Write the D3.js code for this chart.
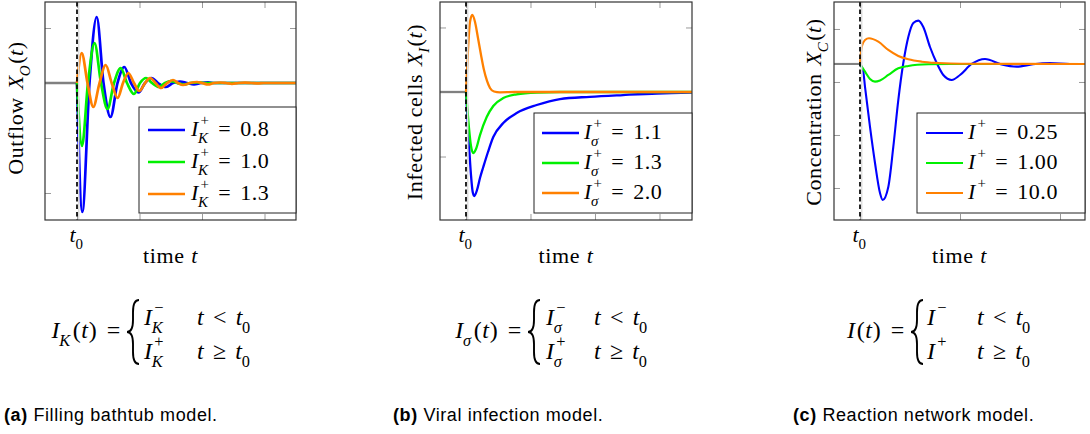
<!DOCTYPE html>
<html>
<head>
<meta charset="utf-8">
<script src="https://cdn.jsdelivr.net/npm/d3@7"></script>
<style>
	body { margin: 0; background: #fff; }
	svg { display: block; }
</style>
</head>
<body>
<div class="container"></div>
<script>
// (a) filling bathtub: outflow, t0 = 0, steady value 0
var bathtubLevels = ["0.8", "1.0", "1.3"];
var bathtubBefore = [[-0.52, 0], [0, 0]];
var bathtubBlue = [[0,0],[0.085,-2.345],[0.2,0],[0.315,1.2],[0.424,0],[0.536,-0.618],[0.648,0],[0.757,0.291],[0.864,0],[0.984,-0.173],[1.088,0],[1.192,0.091],[1.296,0],[1.424,-0.073],[1.536,0],[1.648,0.027],[1.76,0],[1.872,-0.024],[1.984,0],[2.096,0.01],[2.208,0],[3.51,0]];
var bathtubGreen = [[0,0],[0.08,-1.145],[0.176,0],[0.28,0.727],[0.384,0],[0.488,-0.473],[0.592,0],[0.699,0.273],[0.8,0],[0.912,-0.2],[1.008,0],[1.104,0.091],[1.2,0],[1.312,-0.073],[1.408,0],[1.504,0.036],[1.6,0],[1.712,-0.027],[1.808,0],[1.92,0.013],[2.032,0],[3.51,0]];
var bathtubOrange = [[0,0],[0.075,0.545],[0.168,0],[0.261,-0.436],[0.36,0],[0.459,0.327],[0.555,0],[0.651,-0.273],[0.736,0],[0.821,0.182],[0.912,0],[0.997,-0.145],[1.088,0],[1.168,0.091],[1.256,0],[1.344,-0.091],[1.44,0],[1.536,0.055],[1.616,0],[1.696,-0.036],[1.808,0],[1.92,0.018],[2.0,0],[2.096,-0.027],[2.192,0],[2.288,0.009],[2.384,0],[2.48,-0.015],[2.584,0],[2.688,0.007],[2.79,0],[2.896,-0.007],[2.99,0],[3.51,0]];

// (b) viral infection: infected cells
var infectionLevels = ["1.1", "1.3", "2.0"];
var infectionBefore = [[-0.41, 0], [0, 0]];
var infectionBlue = [[0,0],[0.0155,-0.279],[0.0465,-0.822],[0.0775,-1.287],[0.104,-1.55],[0.129,-1.612],[0.171,-1.519],[0.217,-1.333],[0.268,-1.163],[0.341,-0.93],[0.423,-0.698],[0.578,-0.481],[0.786,-0.326],[1.096,-0.202],[1.457,-0.109],[1.922,-0.074],[2.434,-0.047],[2.961,-0.023],[3.51,-0.011]];
var infectionGreen = [[0,0],[0.0155,-0.186],[0.0465,-0.558],[0.0775,-0.837],[0.113,-0.946],[0.155,-0.884],[0.217,-0.667],[0.321,-0.388],[0.423,-0.217],[0.578,-0.093],[0.786,-0.036],[1.096,-0.008],[1.457,0],[3.51,0]];
var infectionOrange = [[0,0],[0.031,0.651],[0.062,1.085],[0.098,1.194],[0.14,1.085],[0.186,0.837],[0.233,0.574],[0.279,0.341],[0.326,0.171],[0.372,0.062],[0.434,0.008],[0.527,-0.005],[0.76,0],[3.51,0]];

// (c) reaction network: concentration, steady value 0.34
var reactionLevels = ["0.25", "1.00", "10.0"];
var reactionBefore = [[-0.27, 0.34], [0, 0.34]];
var reactionBlue = [[0,0.34],[0.033,0.189],[0.05,-0.094],[0.1,-0.849],[0.15,-1.528],[0.2,-2.094],[0.227,-2.226],[0.283,-1.981],[0.333,-1.226],[0.383,-0.34],[0.433,0.358],[0.483,0.849],[0.533,1.113],[0.583,1.157],[0.633,1.038],[0.7,0.66],[0.767,0.358],[0.833,0.132],[0.917,0.038],[1.0,0.132],[1.117,0.34],[1.25,0.434],[1.417,0.33],[1.567,0.289],[1.73,0.334],[1.9,0.355],[2.1,0.34],[2.26,0.34]];
var reactionGreen = [[0,0.34],[0.05,0.194],[0.1,0.057],[0.15,0.006],[0.2,0.028],[0.283,0.132],[0.383,0.258],[0.483,0.302],[0.683,0.334],[0.9,0.34],[2.26,0.34]];
var reactionOrange = [[0,0.34],[0.017,0.666],[0.05,0.792],[0.09,0.825],[0.183,0.76],[0.283,0.604],[0.383,0.491],[0.483,0.428],[0.617,0.383],[0.783,0.358],[1.017,0.343],[2.26,0.34]];

var seriesColors = ["#0000ff", "#00f000", "#ff8000"];

(function() {
	var serifSize = 22;
	var formulaSize = 24;
	var relGap = 0.4;

	var engine = {
		svg: null,
		init: function(width, height, panels) {
			this.svg = d3.select(".container").append("svg")
				.attr("width", width)
				.attr("height", height)
				.attr("font-family", "'Liberation Serif', serif")
				.style("letter-spacing", "0.6px");
			panels.forEach(function(p) {
				engine.drawPanel(p);
			});
		},
		// lays out a little TeX-like formula, returns its width
		mathText: function(g, x, y, size, parts) {
			var cx = x;
			parts.forEach(function(p) {
				if (p.gap !== undefined) {
					cx += p.gap * size;
					return;
				}
				var t = g.append("text")
					.attr("x", cx)
					.attr("y", y)
					.attr("font-size", size)
					.style("font-style", p.it ? "italic" : "normal")
					.text(p.s);
				cx += t.node().getComputedTextLength();
				var w = 0;
				if (p.sup) {
					var sx = p.it ? 0.07 * size : 0;
					var sp = g.append("text")
						.attr("x", cx + sx)
						.attr("y", y - 0.48 * size)
						.attr("font-size", size * 0.68)
						.text(p.sup);
					w = sp.node().getComputedTextLength() + sx;
				}
				if (p.sub) {
					var sb = g.append("text")
						.attr("x", cx - (p.it ? 0.04 * size : 0))
						.attr("y", y + 0.33 * size)
						.attr("font-size", size * 0.68)
						.style("font-style", p.subIt ? "italic" : "normal")
						.text(p.sub);
					w = Math.max(w, sb.node().getComputedTextLength());
				}
				cx += w;
			});
			return cx - x;
		},
		mathAligned: function(g, ax, y, size, parts, anchor) {
			var inner = g.append("g");
			var w = engine.mathText(inner, 0, y, size, parts);
			var off = anchor === "end" ? ax - w : ax - w / 2;
			inner.attr("transform", "translate(" + off + ",0)");
		},
		brace: function(x, y0, y1, w) {
			var xm = x + w / 2;
			var ym = (y0 + y1) / 2;
			var r = w / 2;
			return "M" + (x + w) + "," + y0 +
				" Q" + xm + "," + y0 + " " + xm + "," + (y0 + r * 2) +
				" L" + xm + "," + (ym - r * 2) +
				" Q" + xm + "," + ym + " " + x + "," + ym +
				" Q" + xm + "," + ym + " " + xm + "," + (ym + r * 2) +
				" L" + xm + "," + (y1 - r * 2) +
				" Q" + xm + "," + y1 + " " + (x + w) + "," + y1;
		},
		drawPanel: function(p) {
			var svg = engine.svg;
			var x = d3.scaleLinear().domain(p.tDomain).range([p.left, p.right]);
			var y = d3.scaleLinear().domain(p.yDomain).range([p.bottom, p.top]);
			var g = svg.append("g");

			var clipId = "clip-" + p.name;
			g.append("clipPath").attr("id", clipId)
				.append("rect")
				.attr("x", p.left).attr("y", p.top)
				.attr("width", p.right - p.left).attr("height", p.bottom - p.top);

			// inward ticks on all four sides
			var axes = [
				{ a: d3.axisLeft(y).tickValues(p.yTicks), tr: [p.left, 0] },
				{ a: d3.axisRight(y).tickValues(p.yTicks), tr: [p.right, 0] },
				{ a: d3.axisBottom(x).tickValues(p.xTicks), tr: [0, p.bottom] },
				{ a: d3.axisTop(x).tickValues(p.xTicks), tr: [0, p.top] }
			];
			axes.forEach(function(ax) {
				var ag = g.append("g")
					.attr("transform", "translate(" + ax.tr[0] + "," + ax.tr[1] + ")")
					.call(ax.a.tickSize(-6).tickFormat(""));
				ag.select(".domain").remove();
				ag.selectAll("line").attr("stroke", "#9a9a9a").attr("stroke-width", 1);
			});

			var line = d3.line()
				.x(function(d) { return x(d[0]); })
				.y(function(d) { return y(d[1]); })
				.curve(d3.curveMonotoneX);

			var plot = g.append("g").attr("clip-path", "url(#" + clipId + ")");
			plot.append("path")
				.attr("d", line(p.before))
				.attr("fill", "none")
				.attr("stroke", "#808080")
				.attr("stroke-width", p.lw);
			p.series.forEach(function(s, i) {
				plot.append("path")
					.attr("d", line(s))
					.attr("fill", "none")
					.attr("stroke", seriesColors[i])
					.attr("stroke-width", p.lw)
					.attr("stroke-linejoin", "round");
			});

			// step time marker
			g.append("line")
				.attr("x1", x(0) + 1.7).attr("x2", x(0) + 1.7)
				.attr("y1", p.top).attr("y2", p.bottom)
				.attr("stroke", "#dcdcdc").attr("stroke-width", 1.5);
			g.append("line")
				.attr("x1", x(0)).attr("x2", x(0))
				.attr("y1", p.top).attr("y2", p.bottom)
				.attr("stroke", "#000").attr("stroke-width", 1.7)
				.attr("stroke-dasharray", "4.5,3");

			g.append("rect")
				.attr("x", p.left).attr("y", p.top)
				.attr("width", p.right - p.left).attr("height", p.bottom - p.top)
				.attr("fill", "none")
				.attr("stroke", "#333")
				.attr("stroke-width", 1.2);

			// legend
			var L = p.legend;
			g.append("rect")
				.attr("x", L.box[0]).attr("y", L.box[1])
				.attr("width", L.box[2] - L.box[0]).attr("height", L.box[3] - L.box[1])
				.attr("fill", "#fff")
				.attr("stroke", "#222")
				.attr("stroke-width", 1);
			p.levels.forEach(function(lv, i) {
				var ry = L.rows[i];
				g.append("line")
					.attr("x1", L.line[0]).attr("x2", L.line[1])
					.attr("y1", ry).attr("y2", ry)
					.attr("stroke", seriesColors[i])
					.attr("stroke-width", p.lw);
				engine.mathText(g, L.textX, ry + 6, serifSize, [
					{ s: "I", it: true, sup: "+", sub: p.sym, subIt: true },
					{ gap: relGap }, { s: "=" }, { gap: relGap }, { s: lv }
				]);
			});

			// axis labels
			var cx = (p.left + p.right) / 2;
			engine.mathAligned(g, x(0), 242, serifSize, [{ s: "t", it: true, sub: "0" }]);
			engine.mathAligned(g, cx, 263, serifSize, [{ s: "time" }, { gap: 0.3 }, { s: "t", it: true }]);
			var lg = g.append("g")
				.attr("transform", "translate(" + p.ylabelX + "," + p.ylabelY + ") rotate(-90)");
			engine.mathAligned(lg, 0, 0, serifSize, [
				{ s: p.ylabel }, { gap: 0.36 },
				{ s: "X", it: true, sub: p.ysub, subIt: true },
				{ s: "(" }, { s: "t", it: true }, { s: ")" }
			]);

			// step input definition
			var F = p.formula;
			var lhs = [{ s: "I", it: true, sub: p.sym, subIt: true }, { gap: 0.05 }];
			lhs = lhs.concat([{ s: "(" }, { s: "t", it: true }, { s: ")" }, { gap: relGap }, { s: "=" }]);
			engine.mathAligned(g, F.brace - 6, 338, formulaSize, lhs, "end");
			g.append("path")
				.attr("d", engine.brace(F.brace, 300, 364, 12))
				.attr("fill", "none")
				.attr("stroke", "#000")
				.attr("stroke-width", 1.9);
			engine.mathText(g, F.rows, 325, formulaSize, [{ s: "I", it: true, sup: "\u2212", sub: p.sym, subIt: true }]);
			engine.mathText(g, F.rows, 359, formulaSize, [{ s: "I", it: true, sup: "+", sub: p.sym, subIt: true }]);
			engine.mathText(g, F.cond, 325, formulaSize, [
				{ s: "t", it: true }, { gap: 0.36 }, { s: "<" }, { gap: 0.36 }, { s: "t", it: true, sub: "0" }
			]);
			engine.mathText(g, F.cond, 359, formulaSize, [
				{ s: "t", it: true }, { gap: 0.36 }, { s: "\u2265" }, { gap: 0.36 }, { s: "t", it: true, sub: "0" }
			]);

			// caption
			var cap = g.append("text")
				.attr("x", p.caption.x).attr("y", 421)
				.attr("font-family", "'Liberation Sans', sans-serif")
				.attr("font-size", 18)
				.style("letter-spacing", "0.6px");
			cap.append("tspan").attr("font-weight", "bold").text(p.caption.tag);
			cap.append("tspan").text(" " + p.caption.text);
		}
	};

	var panels = [
		{
			name: "a", left: 45, right: 296, top: 2, bottom: 220,
			tDomain: [-0.512, 3.504], yDomain: [-2.491, 1.473],
			xTicks: [0, 1, 2, 3], yTicks: [1, 0, -1, -2],
			lw: 2.7,
			before: bathtubBefore,
			series: [bathtubBlue, bathtubGreen, bathtubOrange],
			levels: bathtubLevels, sym: "K",
			legend: { box: [139, 107, 296, 213], rows: [130, 162, 194], line: [148, 185], textX: 191 },
			ylabel: "Outflow", ysub: "O", ylabelX: 23, ylabelY: 108,
			formula: { brace: 127, rows: 144, cond: 197 },
			caption: { x: 4, tag: "(a)", text: "Filling bathtub model." }
		},
		{
			name: "b", left: 440, right: 692, top: 2, bottom: 220,
			tDomain: [-0.403, 3.504], yDomain: [-1.984, 1.395],
			xTicks: [0, 1, 2, 3], yTicks: [1, 0, -1],
			lw: 2.3,
			before: infectionBefore,
			series: [infectionBlue, infectionGreen, infectionOrange],
			levels: infectionLevels, sym: "\u03c3",
			legend: { box: [534, 113, 692, 213], rows: [133, 163, 193], line: [542, 579], textX: 584 },
			ylabel: "Infected cells", ysub: "I", ylabelX: 422, ylabelY: 112,
			formula: { brace: 528, rows: 546, cond: 594 },
			caption: { x: 393, tag: "(b)", text: "Viral infection model." }
		},
		{
			name: "c", left: 834, right: 1085, top: 2, bottom: 220,
			tDomain: [-0.26, 2.25], yDomain: [-2.604, 1.509],
			xTicks: [0, 1, 2], yTicks: [1, 0, -1, -2],
			lw: 2.1,
			before: reactionBefore,
			series: [reactionBlue, reactionGreen, reactionOrange],
			levels: reactionLevels, sym: null,
			legend: { box: [917, 113, 1085, 213], rows: [133, 163, 193], line: [926, 963], textX: 968 },
			ylabel: "Concentration", ysub: "C", ylabelX: 821, ylabelY: 112,
			formula: { brace: 911, rows: 927, cond: 977 },
			caption: { x: 793, tag: "(c)", text: "Reaction network model." }
		}
	];

	engine.init(1090, 434, panels);
})();
</script>
</body>
</html>
